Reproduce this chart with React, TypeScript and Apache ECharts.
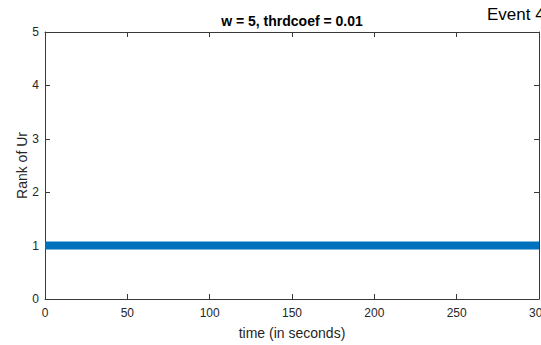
import React, { useEffect, useRef } from "react";
import * as echarts from "echarts";

const times = [0, 50, 100, 150, 200, 250, 300];
const ranks = [1, 1, 1, 1, 1, 1, 1];
const titleText = "w = 5, thrdcoef = 0.01";
const eventText = "Event 4";
const xLabel = "time (in seconds)";
const yLabel = "Rank of Ur";

export default function App() {
  const ref = useRef<HTMLDivElement>(null);
  useEffect(() => {
    if (!ref.current) return;
    const chart = echarts.init(ref.current, undefined, { renderer: "svg" });
    const font = "'Liberation Sans', Arial, Helvetica, sans-serif";
    const axisColor = "#3a3a3a";
    const labelColor = "#262626";
    chart.setOption({
      animation: false,
      backgroundColor: "#ffffff",
      textStyle: { fontFamily: font },
      grid: {
        left: 45,
        top: 32,
        right: 2,
        bottom: 46,
        containLabel: false,
        outerBoundsMode: "none",
      },
      xAxis: [
        {
          type: "value",
          min: 0,
          max: 300,
          interval: 50,
          position: "bottom",
          name: xLabel,
          nameLocation: "middle",
          nameGap: 27,
          nameMoveOverlap: false,
          nameTextStyle: { fontFamily: font, fontSize: 14, color: labelColor },
          axisLine: { show: true, onZero: false, lineStyle: { color: axisColor, width: 1 } },
          axisTick: { show: true, inside: true, length: 5, lineStyle: { color: axisColor } },
          axisLabel: { fontFamily: font, fontSize: 12, color: labelColor, margin: 8 },
          splitLine: { show: false },
        },
        {
          type: "value",
          min: 0,
          max: 300,
          interval: 50,
          position: "top",
          axisLine: { show: true, onZero: false, lineStyle: { color: axisColor, width: 1 } },
          axisTick: { show: true, inside: true, length: 5, lineStyle: { color: axisColor } },
          axisLabel: { show: false },
          splitLine: { show: false },
        },
      ],
      yAxis: [
        {
          type: "value",
          min: 0,
          max: 5,
          interval: 1,
          position: "left",
          name: yLabel,
          nameLocation: "middle",
          nameGap: 16,
          nameMoveOverlap: false,
          nameTextStyle: { fontFamily: font, fontSize: 14, color: labelColor },
          axisLine: { show: true, onZero: false, lineStyle: { color: axisColor, width: 1 } },
          axisTick: { show: true, inside: true, length: 5, lineStyle: { color: axisColor } },
          axisLabel: { fontFamily: font, fontSize: 12, color: labelColor, margin: 6 },
          splitLine: { show: false },
        },
        {
          type: "value",
          min: 0,
          max: 5,
          interval: 1,
          position: "right",
          axisLine: { show: true, onZero: false, lineStyle: { color: axisColor, width: 1 } },
          axisTick: { show: true, inside: true, length: 5, lineStyle: { color: axisColor } },
          axisLabel: { show: false },
          splitLine: { show: false },
        },
      ],
      graphic: [
        {
          type: "text",
          x: 292,
          y: 21,
          style: {
            text: titleText,
            font: "bold 14px " + font,
            fill: "#000000",
            textAlign: "center",
            textVerticalAlign: "middle",
          },
        },
        {
          type: "text",
          x: 487,
          y: 14,
          style: {
            text: eventText,
            font: "17px " + font,
            fill: "#000000",
            textAlign: "left",
            textVerticalAlign: "middle",
          },
        },
      ],
      series: [
        {
          type: "line",
          data: times.map((t, i) => [t, ranks[i]]),
          showSymbol: false,
          symbol: "none",
          lineStyle: { color: "#0072BD", width: 8 },
          clip: true,
        },
      ],
    });
    return () => chart.dispose();
  }, []);
  return (
    <div
      ref={ref}
      style={{ position: "fixed", left: 0, top: 0, width: 541, height: 345 }}
    />
  );
}
